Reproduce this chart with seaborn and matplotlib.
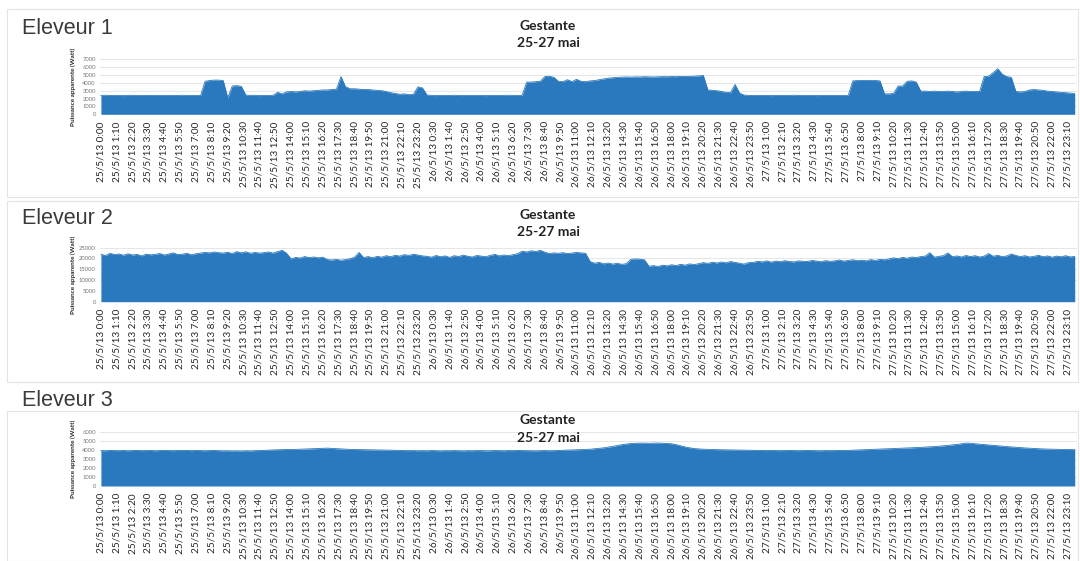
import matplotlib
matplotlib.use("Agg")
import matplotlib.pyplot as plt
from matplotlib.patches import Rectangle
import numpy as np
import pandas as pd
import seaborn as sns

# ---------------------------------------------------------------------------
# Apparent power (W), one reading every 20 minutes, 25-27 May 2013
# ---------------------------------------------------------------------------
eleveur1_j25 = [
    2400, 2420, 2390, 2410, 2400, 2380, 2420, 2400, 2410, 2390, 2400, 2420,
    2410, 2390, 2400, 2410, 2400, 2390, 2420, 2400, 2410, 2400, 2390,
    4200, 4300, 4350, 4350, 4300, 2100, 3600, 3650, 3550,
    2450, 2400, 2420, 2380, 2400, 2390, 2410,
    2800, 2600, 2850, 2900, 2850, 2900, 3000, 2950, 3000, 3050, 3100, 3100, 3150, 3200,
    4800, 3500, 3250, 3250, 3200, 3150, 3150, 3100, 3050, 3000, 2900, 2750, 2650, 2550,
    2600, 2500, 2550, 3500, 3350,
]
eleveur1_j26 = [
    2450, 2400, 2380, 2410, 2400, 2390, 2420, 2400, 2380, 2400, 2410, 2390,
    2400, 2380, 2410, 2400, 2390, 2400, 2420, 2400, 2390, 2410,
    4100, 4100, 4150, 4200, 4800, 4850, 4700, 4200, 4150, 4400, 4150, 4450,
    4200, 4150, 4250, 4300, 4400, 4500, 4600, 4650,
    4700, 4720, 4750, 4730, 4760, 4750, 4780, 4760, 4750, 4770, 4790, 4780,
    4800, 4790, 4820, 4800, 4830, 4850, 4880, 4950,
    3100, 3050, 3000, 2900, 2800, 2750, 3800, 2700, 2450, 2400,
]
eleveur1_j27 = [
    2400, 2390, 2410, 2400, 2380, 2400, 2410, 2390, 2400, 2420, 2400, 2390,
    2410, 2400, 2380, 2400, 2410, 2400, 2390, 2400, 2410, 2400,
    4250, 4300, 4300, 4320, 4300, 4300, 4250,
    2600, 2600, 2650, 3600, 3600, 4200, 4250, 4100, 2950,
    2950, 2900, 2950, 2900, 2900, 2950, 2900, 2850, 2900, 2950, 2900, 2900, 2900,
    4800, 4850, 5300, 5800, 5100, 4800, 4700,
    2900, 2850, 2900, 3100, 3150, 3100, 3050, 2950, 2900, 2850, 2800, 2750, 2700, 2650,
]

eleveur2_j25 = [
    22000, 21300, 22400, 21800, 22100, 21500, 22200, 21600, 21900, 21200, 22000, 21700,
    21900, 22300, 21600, 22100, 22600, 21800, 22000, 22400, 21700, 22200, 22500, 22800,
    22600, 23000, 22700, 22500, 22900, 22300, 23200, 22600, 23100, 22400, 22800, 22500,
    22700, 23000, 22500, 23200, 23800, 22400, 19800, 20500, 20200, 20900, 20400, 20700,
    20300, 20600, 19500, 19300, 19600, 19200, 19500, 19900, 20600, 22800, 20400, 20900,
    20300, 21000, 20600, 21300, 20800, 21500, 21100, 21800, 21400, 22000, 21600, 21200,
]
eleveur2_j26 = [
    21000, 20600, 21400, 20800, 21200, 20500, 21300, 20900, 21600, 21000, 20700, 21400,
    21100, 20800, 21500, 21900, 21200, 21600, 21300, 21800, 22200, 23400, 23000, 23600,
    23200, 23800, 22900, 22300, 22600, 22400, 22700, 22300, 22500, 22800, 22600, 22400,
    18600, 17800, 18200, 17500, 17900, 17400, 17800, 17300, 17600, 19600, 19800, 19700,
    19400, 16400, 16700, 16300, 16900, 16600, 17100, 16700, 17300, 16900, 17500, 17200,
    17600, 18100, 17700, 18300, 17900, 18400, 18000, 18600, 18200, 17800, 17400, 18100,
]
eleveur2_j27 = [
    18200, 18700, 18400, 18900, 18300, 18800, 18500, 19000, 18600, 18400, 18900, 18700,
    18600, 19100, 18800, 18500, 19000, 18700, 18900, 19300, 18800, 19100, 19400, 19000,
    19200, 18900, 19500, 19100, 19600, 19400, 19800, 20300, 19900, 20500, 20100, 20700,
    20400, 20900, 21100, 22700, 20600, 21000, 21300, 22600, 20800, 21200, 20700, 21400,
    20900, 21300, 20700, 21100, 22300, 21000, 21500, 20800, 21200, 22100, 21400, 20900,
    21300, 20700, 21000, 21500, 20800, 21200, 20600, 21100, 20800, 21300, 20700, 21000,
]

eleveur3_j25 = [
    3900, 3880, 3920, 3900, 3890, 3910, 3880, 3900, 3920, 3890, 3900, 3910, 3880, 3900, 3920, 3900, 3890, 3910,
    3900, 3920, 3890, 3910, 3900, 3880, 3900, 3910, 3890, 3870, 3880, 3860, 3870, 3850, 3880, 3860, 3890, 3900,
    3920, 3950, 3970, 3990, 4000, 4020, 4010, 4030, 4040, 4060, 4080, 4100, 4120, 4150, 4170, 4140, 4100, 4080,
    4050, 4030, 4020, 4000, 3990, 3980, 3970, 3960, 3950, 3940, 3930, 3920, 3910, 3900, 3890, 3900, 3880, 3890,
]
eleveur3_j26 = [
    3880, 3900, 3890, 3870, 3890, 3880, 3900, 3880, 3870, 3890, 3880, 3900, 3890, 3870, 3880, 3900, 3890, 3880,
    3900, 3890, 3910, 3900, 3890, 3880, 3870, 3890, 3900, 3880, 3890, 3910, 3930, 3950, 3960, 3980, 4000, 4020,
    4050, 4100, 4150, 4200, 4280, 4350, 4450, 4550, 4620, 4680, 4700, 4720, 4720, 4700, 4710, 4730, 4700, 4680,
    4650, 4550, 4420, 4300, 4200, 4120, 4080, 4050, 4030, 4010, 4000, 3990, 3980, 3970, 3960, 3950, 3940, 3930,
]
eleveur3_j27 = [
    3930, 3920, 3910, 3900, 3910, 3900, 3890, 3900, 3910, 3900, 3890, 3900, 3910, 3900, 3890, 3880, 3900, 3890,
    3900, 3910, 3900, 3920, 3940, 3960, 3980, 4000, 4020, 4040, 4060, 4080, 4100, 4120, 4140, 4160, 4180, 4200,
    4220, 4250, 4280, 4310, 4340, 4380, 4420, 4470, 4520, 4580, 4650, 4720, 4700, 4650, 4600, 4560, 4520, 4480,
    4430, 4380, 4340, 4300, 4260, 4220, 4190, 4160, 4130, 4100, 4080, 4060, 4050, 4040, 4030, 4020, 4010, 4000,
]

eleveurs = ["Eleveur 1", "Eleveur 2", "Eleveur 3"]
titre = "Gestante\n25-27 mai"
ylabel = "Puissance apparente (Watt)"
y_max = [7000, 25000, 6000]
y_step = [1000, 5000, 1000]

SAMPLE_MIN = 20      # minutes between readings
TICK_MIN = 70        # minutes between axis labels
FIRST_DAY = 25

series = [
    eleveur1_j25 + eleveur1_j26 + eleveur1_j27,
    eleveur2_j25 + eleveur2_j26 + eleveur2_j27,
    eleveur3_j25 + eleveur3_j26 + eleveur3_j27,
]


def time_label(minute):
    day = FIRST_DAY + minute // 1440
    rest = minute % 1440
    return f"{day}/5/13 {rest // 60}:{rest % 60:02d}"


# ---------------------------------------------------------------------------
sns.set_theme(style="white")
plt.rcParams["font.family"] = ["Lato", "DejaVu Sans"]

W, H = 1080, 561
fig = plt.figure(figsize=(W / 100, H / 100), dpi=100)
fig.patch.set_facecolor("white")

BLUE = "#2a79be"
TXT = "#262626"

# layout in pixels: plot top/bottom, name centre, title centre, frame
layout = [
    dict(top=59.3, bottom=114.3, name_y=29, title_y=34.5, frame=(9, 197)),
    dict(top=247.7, bottom=301.7, name_y=218.5, title_y=223.5, frame=(201, 382)),
    dict(top=431.5, bottom=486.0, name_y=400.5, title_y=429.0, frame=(411, 561)),
]

ticks = np.arange(0, 3 * 1440, TICK_MIN)

for i, (vals, lay) in enumerate(zip(series, layout)):
    df = pd.DataFrame({
        "minute": np.arange(len(vals)) * SAMPLE_MIN,
        "watt": vals,
    })

    left, right = 100, 1077
    ax = fig.add_axes([left / W, 1 - lay["bottom"] / H,
                       (right - left) / W, (lay["bottom"] - lay["top"]) / H])
    ax.set_facecolor("none")

    ax.fill_between(df["minute"], df["watt"], color=BLUE, lw=0, zorder=2)
    sns.lineplot(data=df, x="minute", y="watt", ax=ax, color=BLUE,
                 lw=0.6, zorder=3)

    ax.set_xlim(-4, 4310)
    ax.set_ylim(0, y_max[i])
    ax.set_yticks(np.arange(0, y_max[i] + 1, y_step[i]))
    ax.set_yticklabels([str(v) for v in np.arange(0, y_max[i] + 1, y_step[i])],
                       fontsize=4.2, color="#777777")
    ax.set_xticks(ticks)
    ax.set_xticklabels([time_label(int(m)) for m in ticks], rotation=90,
                       fontsize=7.2, color=TXT)
    ax.tick_params(axis="x", length=0, pad=5)
    ax.tick_params(axis="y", length=0, pad=3)
    ax.set_xlabel("")
    ax.set_ylabel("")
    ax.yaxis.grid(True, color="#e2e2e2", lw=0.6)
    ax.set_axisbelow(True)
    for s in ax.spines.values():
        s.set_visible(False)

    # y-axis caption
    fig.text(73 / W, 1 - (lay["top"] + lay["bottom"]) / 2 / H, ylabel,
             rotation=90, ha="center", va="center", fontsize=4.6,
             fontweight="bold", color=TXT)

    # chart title
    fig.text(548 / W, 1 - lay["title_y"] / H, titre, ha="center", va="center",
             fontsize=10, fontweight="bold", color="#222222", linespacing=1.5)

    # breeder name
    fig.text(22 / W, 1 - lay["name_y"] / H, eleveurs[i], ha="left", va="center",
             fontsize=15.5, color="#3a3a3a", family=["Liberation Sans", "DejaVu Sans"])

    # light chart frame
    y0, y1 = lay["frame"]
    fig.add_artist(Rectangle((7 / W, 1 - y1 / H), (1078 - 7) / W, (y1 - y0) / H,
                             transform=fig.transFigure, fill=False,
                             edgecolor="#e4e4e4", lw=0.8))

fig.savefig("out.png", dpi=100)
